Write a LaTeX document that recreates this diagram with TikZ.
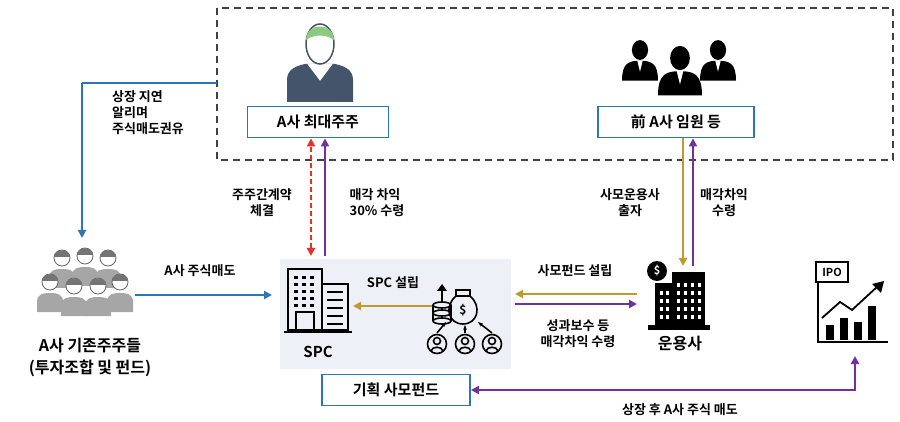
\documentclass[tikz,border=0pt]{standalone}
\usepackage{fontspec}
\setmainfont{Noto Sans CJK KR}[BoldFont={* Bold}]
\usetikzlibrary{arrows.meta}
\definecolor{cblue}{HTML}{2E75B6}
\definecolor{cgold}{HTML}{C09A2E}
\definecolor{cpurp}{HTML}{7030A0}
\definecolor{cred}{HTML}{E8302A}
\definecolor{cslate}{HTML}{44546A}
\definecolor{cgreen}{HTML}{8CCB7E}
\definecolor{cpanel}{HTML}{EDF0F6}
\definecolor{cgray}{HTML}{A6A6A6}
\tikzset{
 lbl/.style={font=\bfseries\fontsize{13}{16}\selectfont, align=center, inner sep=1pt},
 lbll/.style={lbl, align=left},
 tbox/.style={draw=cblue, line width=1.8pt, fill=white, font=\bfseries\fontsize{15}{17}\selectfont, minimum height=31pt, inner sep=3pt},
 arr/.style={line width=2.2pt, -{Triangle[length=8pt,width=8pt]}},
}
\begin{document}
\begin{tikzpicture}[x=1pt,y=-1pt]
\useasboundingbox (0,0) rectangle (900,422);
% dashed region
\draw[dash pattern=on 7pt off 5pt, line width=1.5pt, black!75] (217,8) rectangle (893,160);
% big shareholder icon
\fill[cslate] (287,102) -- (287,80) .. controls (287,70) and (295,66) .. (305,64) -- (335,64) .. controls (345,66) and (353,70) .. (353,80) -- (353,102) -- cycle;
\draw[white, line width=1pt, fill=white] (308,64) -- (320,80) -- (332,64);
\draw[cslate, line width=1.5pt, fill=white] (320,44) ellipse (14 and 20);
\fill[cgreen] (306,40) .. controls (306,22) and (334,22) .. (334,40) .. controls (326,34) and (314,34) .. (306,40) -- cycle;
\node[tbox, minimum width=141pt] (big) at (318,122) {A사 최대주주};
% executives icon
\begin{scope}[black]
\foreach \x/\y/\s in {640/50/0.9, 718/50/0.9, 680/58/1.1}{
 \fill[white] (\x,\y) circle ({15*\s});
 \fill (\x-20*\s,\y+34*\s) .. controls (\x-20*\s,\y+14*\s) and (\x-12*\s,\y+12*\s) .. (\x,\y+12*\s) .. controls (\x+12*\s,\y+12*\s) and (\x+20*\s,\y+14*\s) .. (\x+20*\s,\y+34*\s) -- cycle;
 \fill (\x,\y) ellipse ({9*\s} and {11*\s});
 \fill[white] (\x-3*\s,\y+12*\s) -- (\x,\y+24*\s) -- (\x+3*\s,\y+12*\s) -- cycle;}
\end{scope}
\node[tbox, minimum width=156pt] (exec) at (676,122) {前 A사 임원 등};
% existing shareholders icon
\foreach \x/\y in {62/258,85/256,108/258,50/282,74/286,98/286,120/282}{
 \fill[cgray] (\x-13,\y+30) -- (\x-13,\y+20) .. controls (\x-13,\y+12) and (\x-7,\y+11) .. (\x,\y+11) .. controls (\x+7,\y+11) and (\x+13,\y+12) .. (\x+13,\y+20) -- (\x+13,\y+30) -- cycle;
 \draw[cgray!60!black, line width=0.8pt, fill=white] (\x,\y) circle (8);
 \fill[cgray!70!black] (\x-8,\y-1) .. controls (\x-8,\y-10) and (\x+8,\y-10) .. (\x+8,\y-1) -- cycle;}
\node[lbl, font=\bfseries\fontsize{16}{22}\selectfont] (exist) at (90,357) {A사 기존주주들\\(투자조합 및 펀드)};
% SPC panel
\fill[cpanel] (280,259) rectangle (511,369);
% SPC building
\begin{scope}[line width=1.8pt, black]
\draw (288,330) rectangle (322,269);
\draw (322,330) rectangle (348,284);
\draw (284,332) -- (352,332);
\draw (296,330) rectangle (314,312);
\foreach \yy in {276,283,290,297,304}{\foreach \xx in {294,302,310}{\fill (\xx,\yy) rectangle ++(4,3);}}
\foreach \yy in {292,300,308,316,324}{\draw (327,\yy) -- (343,\yy);}
\end{scope}
\node[lbl, font=\bfseries\fontsize{15}{17}\selectfont] (spc) at (318,352) {SPC};
\coordinate (spcR) at (353,306);
% money icon
\begin{scope}[line width=1.6pt, black]
\foreach \yy in {305,313,321}{\draw (442,\yy) ellipse (9 and 3);}
\draw (433,305) -- (433,321) (451,305) -- (451,321);
\draw (442,302) -- (442,288); \fill (442,284) -- (437,291) -- (447,291) -- cycle;
\draw (456,290) rectangle (470,296);
\draw (456,296) .. controls (444,306) and (448,324) .. (463,324) .. controls (478,324) and (482,306) .. (470,296);
\node[font=\bfseries\fontsize{12}{12}\selectfont] at (463,310) {\$};
\foreach \xx in {437,465,492}{
 \draw (\xx,344) circle (9.5); \draw (\xx,341) circle (3.5);
 \draw (\xx-6,351) .. controls (\xx-5,346) and (\xx+5,346) .. (\xx+6,351);}
\draw[-{Stealth[length=5pt]}] (437,333) -- (446,322);
\draw[-{Stealth[length=5pt]}] (465,333) -- (465,325);
\draw[-{Stealth[length=5pt]}] (492,333) -- (478,322);
\end{scope}
\coordinate (fundL) at (432,306);
\coordinate (fundR) at (515,294);
\coordinate (fundR2) at (515,304);
% asset manager building
\begin{scope}[black]
\fill (655,283) rectangle (690,325);
\fill (672,272) rectangle (705,325);
\foreach \yy in {283,291,299,307,315}{\foreach \xx in {677,684,691,698}{\fill[white] (\xx,\yy) rectangle ++(3,4);}}
\foreach \yy in {291,299,307,315}{\foreach \xx in {660,666}{\fill[white] (\xx,\yy) rectangle ++(3,4);}}
\fill (648,325) rectangle (710,330);
\fill (657,271) circle (10); \node[white, font=\bfseries\fontsize{11}{11}\selectfont] at (657,271) {\$};
\end{scope}
\node[lbl, font=\bfseries\fontsize{16}{18}\selectfont] (mgr) at (680,344) {운용사};
\coordinate (mgrL) at (637,294);
\coordinate (mgrL2) at (637,304);
\coordinate (mgrT) at (683,266);
\coordinate (mgrT2) at (693,266);
% IPO chart
\begin{scope}[black, line width=1.8pt]
\draw (818,280) -- (818,342) -- (888,342);
\fill (826,325) rectangle (834,340); \fill (840,318) rectangle (848,340);
\fill (854,322) rectangle (862,340); \fill (868,306) rectangle (876,340);
\draw (822,318) -- (840,302) -- (852,310) -- (878,286);
\fill (884,281) -- (872,284) -- (881,293) -- cycle;
\draw[fill=white] (816,262) rectangle (848,282);
\node[font=\bfseries\fontsize{11}{11}\selectfont] at (832,272) {IPO};
\end{scope}
\coordinate (ipo) at (855,356);
% planned fund box
\node[tbox, minimum width=148pt] (plan) at (396,390) {기획 사모펀드};
% connectors
\draw[cblue, line width=2.2pt] (217,83) -- (82,83) coordinate (bl);
\draw[cblue, arr] (bl) -- (82,238);
\node[lbll] at (148,113) {상장 지연\\알리며\\주식매도권유};
\draw[cblue, arr] (135,295) -- (272,295);
\node[lbl] at (200,271) {A사 주식매도};
\draw[cgold, arr] (fundL) -- (spcR);
\node[lbl] at (393,283) {SPC 설립};
\draw[cred, dash pattern=on 5pt off 3pt, line width=2.2pt, {Triangle[length=8pt,width=8pt]}-{Triangle[length=8pt,width=8pt]}] (311,256) -- ([xshift=-7pt]big.south);
\draw[cpurp, arr] (325,256) -- ([xshift=7pt]big.south);
\node[lbl] at (262,203) {주주간계약\\체결};
\node[lbll] at (377,203) {매각 차익\\30\% 수령};
\draw[cgold, arr] ([xshift=7pt]exec.south) -- (mgrT);
\draw[cpurp, arr] (mgrT2) -- ([xshift=17pt]exec.south);
\node[lbl] at (630,203) {사모운용사\\출자};
\node[lbl] at (724,203) {매각차익\\수령};
\draw[cgold, arr] (mgrL) -- (fundR);
\draw[cpurp, arr] (fundR2) -- (mgrL2);
\node[lbl] at (575,271) {사모펀드 설립};
\node[lbl] at (578,334) {성과보수 등\\매각차익 수령};
\draw[cpurp, line width=2.2pt, {Triangle[length=8pt,width=8pt]}-{Triangle[length=8pt,width=8pt]}] (plan.east) -- (855,390) -- (ipo);
\node[lbl] at (680,410) {상장 후 A사 주식 매도};
\end{tikzpicture}
\end{document}
